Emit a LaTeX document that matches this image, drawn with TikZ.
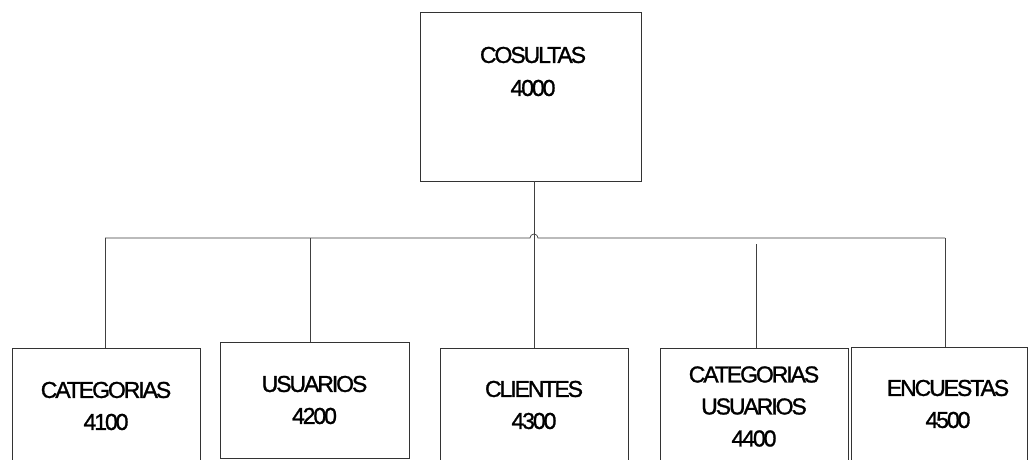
\documentclass[tikz,border=0pt]{standalone}
\usepackage{fontspec}
\setmainfont{Liberation Sans}[LetterSpace=-9.0,FakeBold=1.2]
\begin{document}
\begin{tikzpicture}[x=1pt,y=-1pt,
  box/.style={draw=black!80,line width=0.8pt,rectangle,inner sep=0pt,align=center,
    font=\fontsize{23}{32}\selectfont},
  conn/.style={draw=black!75,line width=0.7pt},
  lbl/.style={align=center,inner sep=0pt,font=\fontsize{23}{33}\selectfont}]
\clip (0,0) rectangle (1029,460);
\fill[white] (0,0) rectangle (1029,460);
% top box
\node[box,minimum width=221pt,minimum height=169pt] (top) at (530.5,96.5) {};
\node[lbl] (toptext) at (533,71.5) {COSULTAS\\4000};
% bottom boxes
\node[box,minimum width=188pt,minimum height=116pt] (c1) at (106,406) {CATEGORIAS\\4100};
\node[box,minimum width=189pt,minimum height=116pt] (c2) at (314.5,400) {USUARIOS\\4200};
\node[box,minimum width=188pt,minimum height=114pt] (c3) at (534,405) {CLIENTES\\4300};
\node[box,minimum width=188pt,minimum height=117pt] (c4) at (754,406.5) {CATEGORIAS\\USUARIOS\\4400};
\node[box,minimum width=176pt,minimum height=114pt] (c5) at (939,404) {\hspace*{18pt}ENCUESTAS\\\hspace*{18pt}4500};
% bus
\coordinate (busL) at (105,238);
\coordinate (busR) at (945,238);
\coordinate (hop) at (534,238);
\coordinate (d2) at (310,238);
\coordinate (d4) at (756,244);
\draw[conn] (busL) -- ([xshift=-4pt]hop) arc[start angle=180,end angle=0,radius=4pt] -- (busR);
\draw[conn] (top.south -| c3.north) -- (c3.north);
\draw[conn] (busL) -- (busL |- c1.north);
\draw[conn] (d2) -- (d2 |- c2.north);
\draw[conn] (d4) -- (d4 |- c4.north);
\draw[conn] (busR) -- (busR |- c5.north);
\end{tikzpicture}
\end{document}
